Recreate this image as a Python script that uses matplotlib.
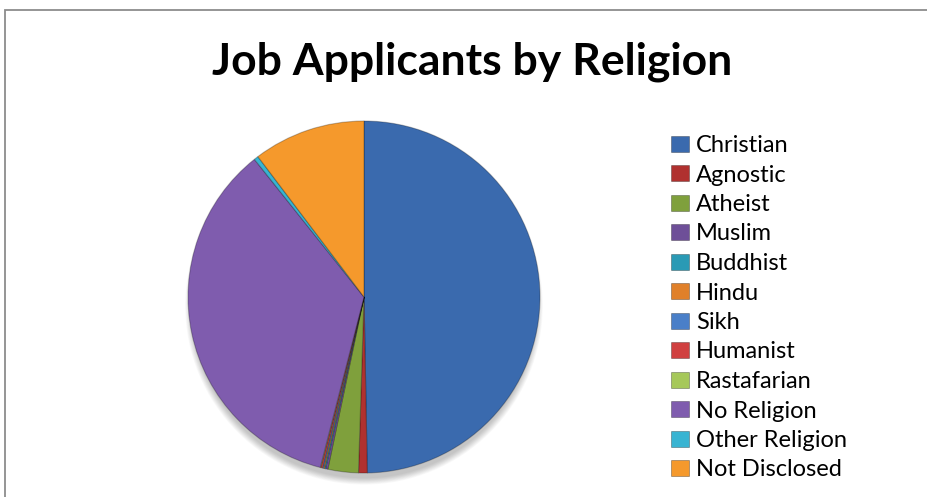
import matplotlib.pyplot as plt
from matplotlib.patches import Rectangle, Ellipse, Patch

religions = ["Christian", "Agnostic", "Atheist", "Muslim", "Buddhist", "Hindu",
             "Sikh", "Humanist", "Rastafarian", "No Religion", "Other Religion",
             "Not Disclosed"]
shares = [49.7, 0.8, 2.8, 0.2, 0.1, 0.1, 0.1, 0.15, 0.05, 35.3, 0.4, 10.3]
colors = ["#3A6AAE", "#B0312F", "#7FA03C", "#6E4F98", "#2A9AB5", "#E0802A",
          "#4A7FC8", "#D04040", "#A6C85A", "#7F5CAE", "#38B4D2", "#F5992C"]

plt.rcParams["font.family"] = ["Lato", "DejaVu Sans"]

W, H = 927, 497
fig = plt.figure(figsize=(W / 100, H / 100), dpi=100)

# chart frame (right and bottom edges fall outside the image)
fig.patches.append(Rectangle((5 / W, -0.1), 1.2, 1 - 10 / H + 0.1,
                             transform=fig.transFigure, fill=False,
                             edgecolor="#8c8c8c", lw=1.3))

fig.text(472 / W, 1 - 62 / H, "Job Applicants by Religion", ha="center",
         va="center", fontsize=32, fontweight="bold")

# pie axes, centred on the plot area, with room for the shadow
cx, cy, r = 364, 297, 176
m = 1.2
ax = fig.add_axes([(cx - r * m) / W, (H - cy - r * m) / H,
                   2 * r * m / W, 2 * r * m / H])

# soft drop shadow under the pie
for i in range(10):
    ax.add_patch(Ellipse((0.0, -0.05), 1.96 + i * 0.008, 1.96 + i * 0.008,
                         facecolor="#000000", alpha=0.025, lw=0, zorder=0))

wedges, _ = ax.pie(shares, colors=colors, startangle=90, counterclock=False,
                   radius=1.0,
                   wedgeprops=dict(edgecolor="#00000040", linewidth=0.8))
for w in wedges:
    w.set_zorder(2)
ax.set_xlim(-m, m)
ax.set_ylim(-m, m)
ax.set_aspect("equal")
ax.axis("off")

handles = [Patch(facecolor=c, edgecolor="#00000055", lw=0.6) for c in colors]
fig.legend(handles, religions, loc="upper left",
           bbox_to_anchor=(671 / W, 1 - 135 / H), frameon=False,
           fontsize=17, handlelength=0.75, handleheight=0.65,
           handletextpad=0.3, labelspacing=0.36, borderpad=0,
           borderaxespad=0)

fig.savefig("out.png", dpi=100)
